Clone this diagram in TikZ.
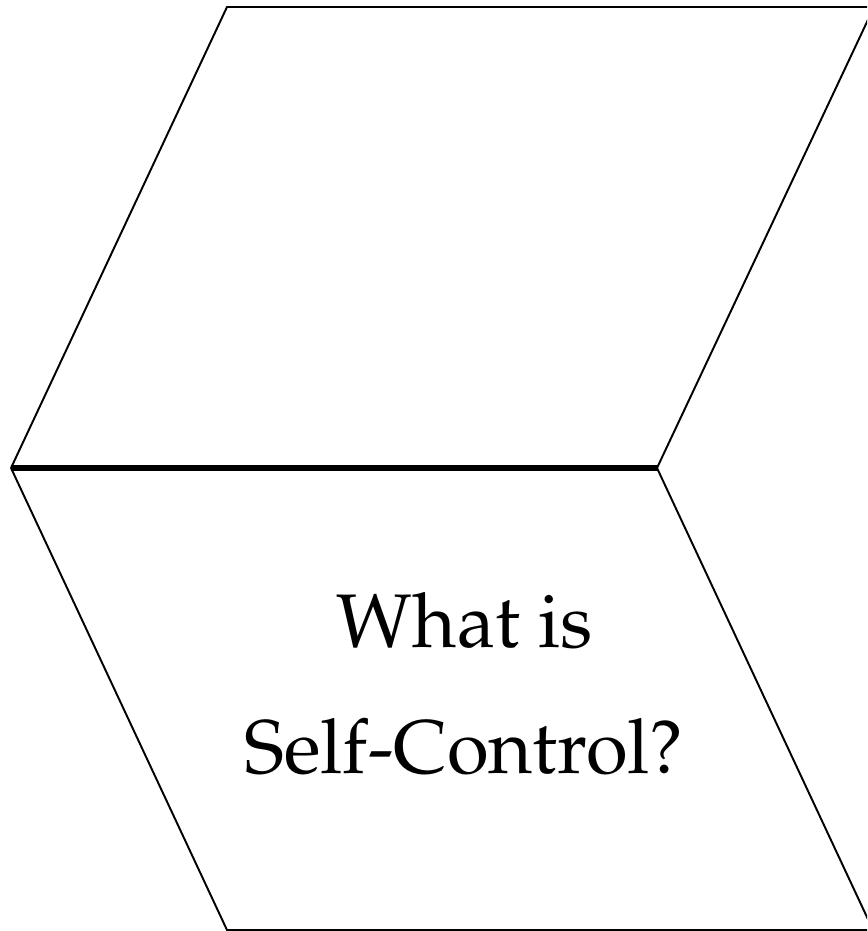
\documentclass[tikz,border=0pt]{standalone}
\usepackage[T1]{fontenc}
\usepackage{mathpazo}
\begin{document}
\begin{tikzpicture}[x=0.01cm,y=-0.01cm,line width=0.55pt,line join=miter]
  % 画布
  \useasboundingbox (0,0) rectangle (867,931);
  \clip (0,0) rectangle (867,931);
  % 顶点
  \coordinate (TL) at (227,7);
  \coordinate (TR) at (874,7);
  \coordinate (ML) at (11,468);
  \coordinate (MR) at (657,468);
  \coordinate (BL) at (227,930);
  \coordinate (BR) at (873,930);
  % 上平行四边形
  \draw (ML) -- (TL) -- (TR) -- (MR);
  % 下平行四边形
  \draw (ML) -- (BL) -- (BR) -- (MR);
  % 中间粗线
  \draw[line width=1.7pt] (ML) -- (MR);
  % 文字
  \node[anchor=base,font=\fontsize{21.6}{30}\selectfont] (line1) at (465,647) {What is};
  \node[anchor=base,font=\fontsize{21.6}{30}\selectfont] (line2) at (464,773) {Self-Control?};
\end{tikzpicture}
\end{document}
